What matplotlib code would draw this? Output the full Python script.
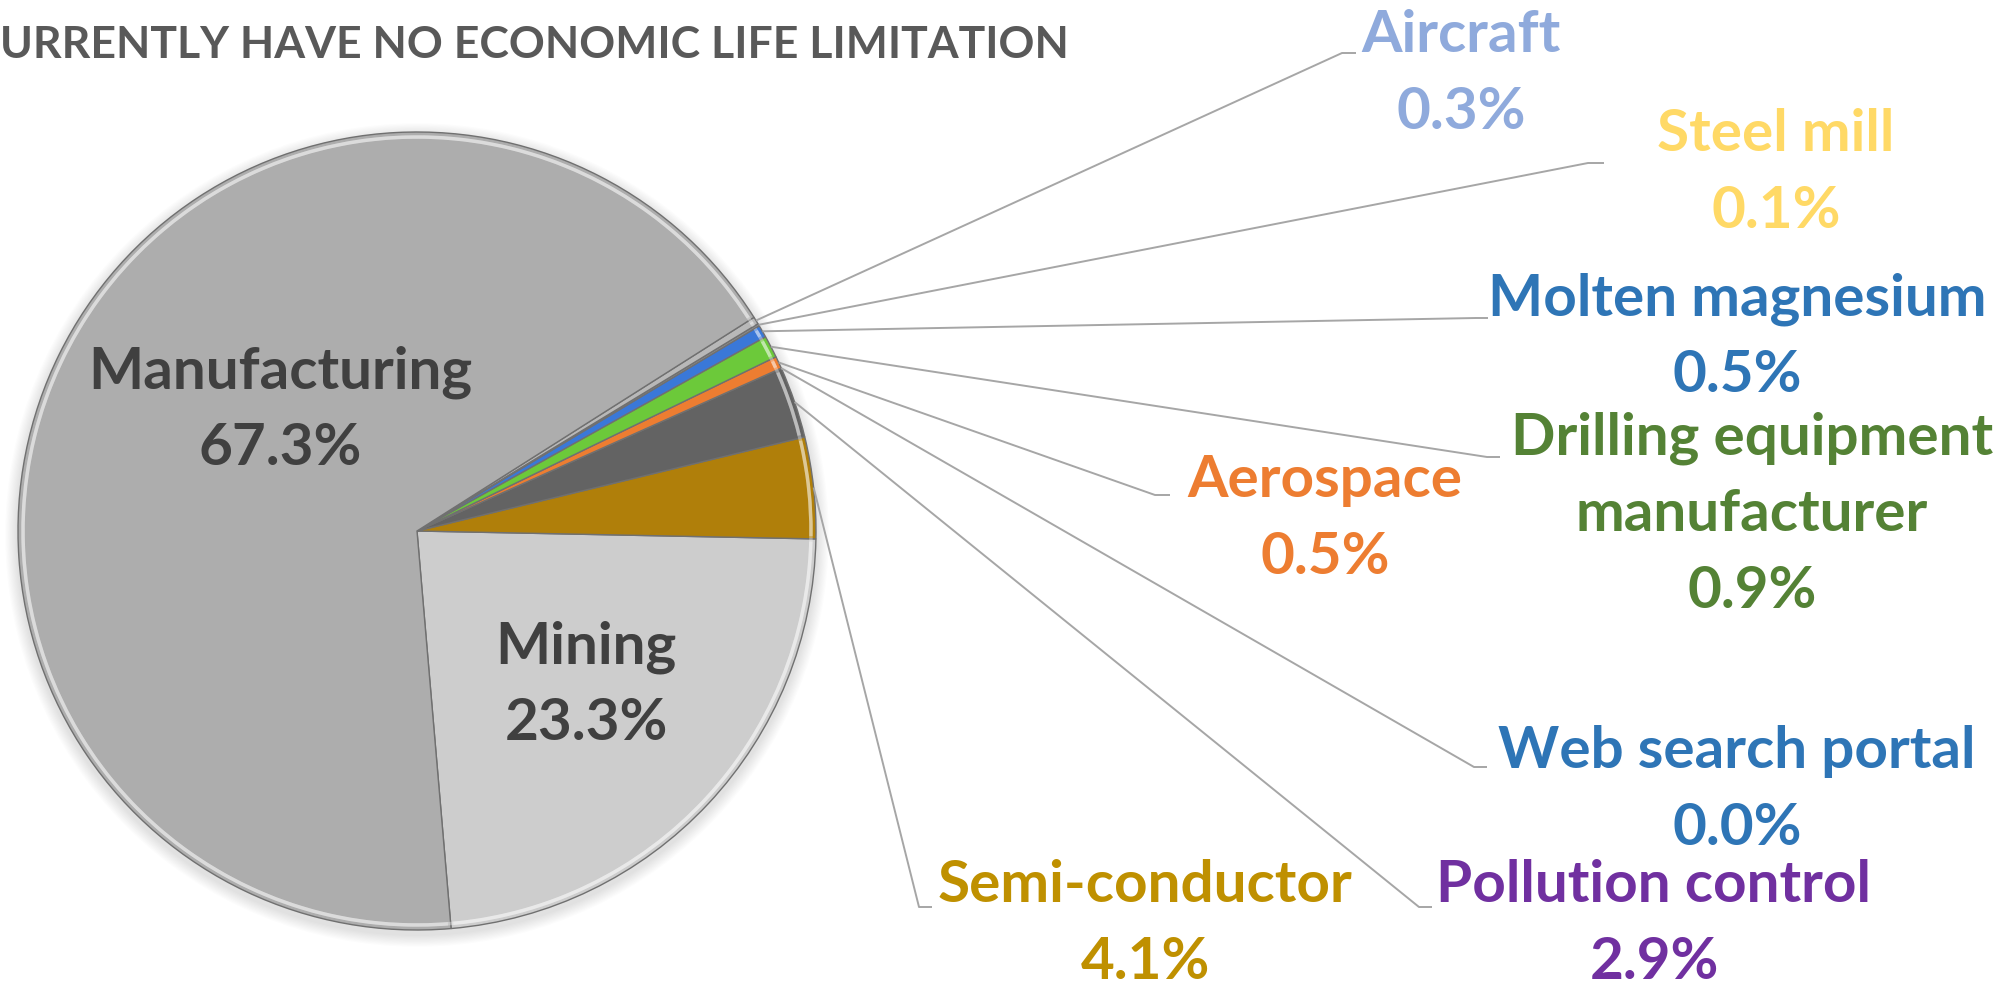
import matplotlib
matplotlib.use("Agg")
import matplotlib.pyplot as plt
from matplotlib.patches import Arc
import numpy as np

# ---------------- data ----------------
categories = ["Mining", "Semi-conductor", "Pollution control", "Web search portal",
              "Aerospace", "Drilling equipment\nmanufacturer", "Molten magnesium",
              "Steel mill", "Aircraft", "Manufacturing"]
shares = [23.3, 4.1, 2.9, 0.0, 0.5, 0.9, 0.5, 0.1, 0.3, 67.3]
title_text = "URRENTLY HAVE NO ECONOMIC LIFE LIMITATION"

# ---------------- style ----------------
slice_colors = ["#CDCDCD", "#B07F0A", "#636363", "#2E75B6", "#ED7D31",
                "#6CC93A", "#3A78D8", "#8C8C8C", "#B8B8B8", "#ADADAD"]
label_colors = ["#404040", "#BF9000", "#7030A0", "#2E75B6", "#ED7D31",
                "#548235", "#2E75B6", "#FFD966", "#8FAADC", "#404040"]

# label layout (pixel coords, origin top-left): centre x, first-line centre y
label_pos = [(586, 647), (1145, 886), (1654, 886), (1737, 752), (1325, 481),
             (1752, 438), (1737, 299), (1776, 135), (1461, 36), (280, 372)]
# leader attach points (x_left, x_right, y) ; None = no leader
leader_pos = [None, (919, 932, 908), (1419, 1432, 908), (1474, 1487, 768),
              (1155, 1170, 496), (1487, 1500, 458), (1476, 1488, 319),
              (1588, 1604, 164), (1342, 1356, 54), None]

W, H = 2010, 995
LINE_STEP = 77
FONT = ["Lato", "DejaVu Sans"]

fig = plt.figure(figsize=(W / 100, H / 100), dpi=100, facecolor="white")
ax = fig.add_axes([0, 0, 1, 1])
ax.set_xlim(0, W)
ax.set_ylim(0, H)
ax.set_aspect("equal")
ax.axis("off")

cx, cy, R = 417, H - 532, 399

# soft shadow under the pie
for k in range(10):
    circ = plt.Circle((cx, cy - 4), R + 2 + k * 1.2, color="#000000",
                      alpha=0.012, zorder=0, lw=0)
    ax.add_patch(circ)

wedges, _ = ax.pie(shares, colors=slice_colors, startangle=-85.1,
                   counterclock=True, center=(cx, cy), radius=R,
                   wedgeprops=dict(edgecolor="#707070", linewidth=1.0),
                   frame=True)
ax.set_xlim(0, W)
ax.set_ylim(0, H)
ax.axis("off")

# bevel-like highlight along the outer rim of each slice
for w in wedges:
    if w.theta2 - w.theta1 < 0.01:
        continue
    ax.add_patch(Arc((cx, cy), 2 * (R - 5), 2 * (R - 5),
                     theta1=w.theta1 + 0.4, theta2=w.theta2 - 0.4,
                     color="white", alpha=0.35, lw=2.5, zorder=3))

# labels and leader lines
for i, (name, val) in enumerate(zip(categories, shares)):
    lx, ly = label_pos[i]
    lines = name.split("\n") + [f"{val:.1f}%"]
    for j, t in enumerate(lines):
        ax.text(lx, H - (ly + j * LINE_STEP), t, ha="center", va="center",
                fontsize=42, fontweight="bold", color=label_colors[i],
                family=FONT, zorder=5)
    lp = leader_pos[i]
    if lp is not None:
        w = wedges[i]
        mid = np.deg2rad((w.theta1 + w.theta2) / 2)
        sx, sy = cx + R * np.cos(mid), cy + R * np.sin(mid)
        ax.plot([sx, lp[0], lp[1]], [sy, H - lp[2], H - lp[2]],
                color="#A6A6A6", lw=1.4, zorder=4, solid_capstyle="butt")

ax.text(0, H - 45, title_text, ha="left", va="center", fontsize=32,
        fontweight="bold", color="#595959", family=FONT)

fig.savefig("out.png", dpi=100, facecolor="white")
